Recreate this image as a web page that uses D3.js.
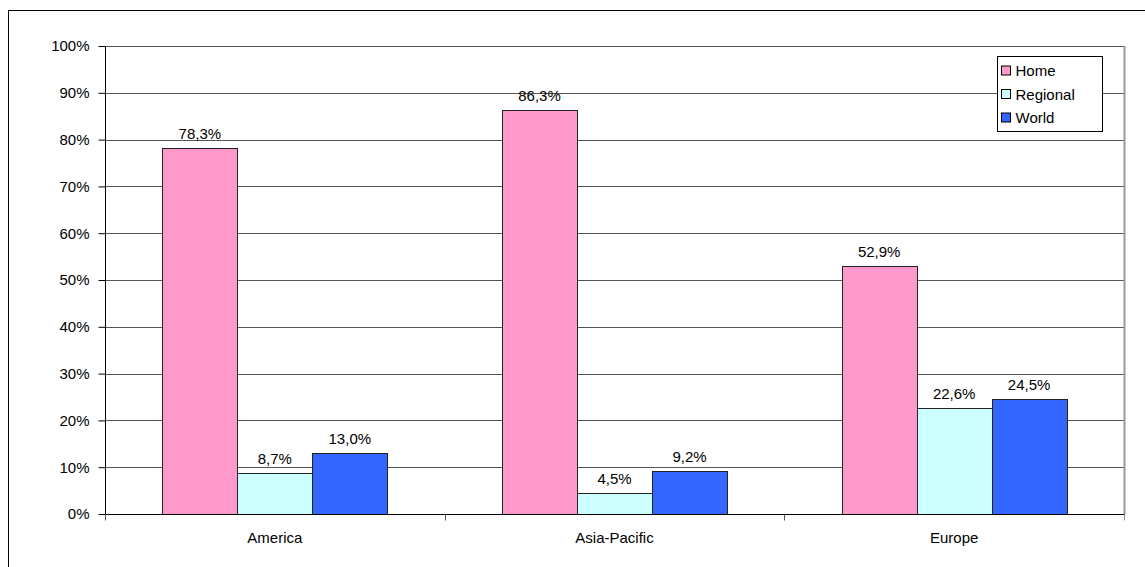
<!DOCTYPE html>
<html><head><meta charset="utf-8">
<script src="https://cdn.jsdelivr.net/npm/d3@7"></script>
<style>body{margin:0;background:#fff}svg{display:block}text{font-family:"Liberation Sans",Arial,sans-serif;fill:#000}</style>
</head><body><svg id="c" width="1145" height="567"></svg>
<script>
const categories = ["America", "Asia-Pacific", "Europe"];
const seriesNames = ["Home", "Regional", "World"];
const home = [78.3, 86.3, 52.9];
const regional = [8.7, 4.5, 22.6];
const world = [13.0, 9.2, 24.5];
const yTicks = [0,10,20,30,40,50,60,70,80,90,100];
const colors = ["#FF99CC", "#CCFFFF", "#3366FF"];
const values = [home, regional, world];

const svg = d3.select("#c");
const L = 105, R = 1124, T = 46, B = 514;
const FS = 15;

// outer frame
svg.append("rect").attr("x", 8.5).attr("y", 10.5).attr("width", 1200).attr("height", 700)
  .attr("fill", "none").attr("stroke", "#000").attr("stroke-width", 1);

const x = d3.scaleBand().domain(categories).range([L, R]).paddingInner(0).paddingOuter(0);
const xs = d3.scaleBand().domain(seriesNames).range([0, x.bandwidth()]).paddingInner(0).paddingOuter(0.765);
const y = d3.scaleLinear().domain([0, 100]).range([B, T]);

// gridlines
svg.append("g").selectAll("line").data(yTicks.filter(d => d > 0)).join("line")
  .attr("x1", L).attr("x2", R).attr("y1", d => Math.round(y(d)) + 0.5).attr("y2", d => Math.round(y(d)) + 0.5)
  .attr("stroke", "#555").attr("stroke-width", 1);

// plot right border
svg.append("line").attr("x1", R + 0.5).attr("x2", R + 0.5).attr("y1", T).attr("y2", B)
  .attr("stroke", "#999").attr("stroke-width", 2);

// bars
const g = svg.append("g");
seriesNames.forEach((s, si) => {
  g.selectAll(".b" + si).data(categories).join("rect")
    .attr("x", c => Math.round(x(c) + xs(s)) + 0.5)
    .attr("y", (c, i) => Math.round(y(values[si][i])) + 0.5)
    .attr("width", Math.round(xs.bandwidth()))
    .attr("height", (c, i) => B - Math.round(y(values[si][i])))
    .attr("fill", colors[si]).attr("stroke", "#222").attr("stroke-width", 1);
  g.selectAll(".l" + si).data(categories).join("text")
    .attr("x", c => x(c) + xs(s) + xs.bandwidth() / 2)
    .attr("y", (c, i) => y(values[si][i]) - 9)
    .attr("text-anchor", "middle").attr("font-size", FS)
    .text((c, i) => values[si][i].toFixed(1).replace(".", ",") + "%");
});

// y axis
const yAxis = d3.axisLeft(y).tickValues(yTicks).tickSize(7).tickPadding(9).tickFormat(d => d + "%");
const ya = svg.append("g").attr("transform", `translate(${L + 0.5},0)`).call(yAxis);
ya.attr("font-size", FS).attr("font-family", '"Liberation Sans",Arial,sans-serif');
ya.selectAll("line,path").attr("stroke", "#000");
ya.select(".domain").attr("d", `M0,${T}V${B}`);

// x axis
const xAxis = d3.axisBottom(x).tickSize(0).tickPadding(18);
const xa = svg.append("g").attr("transform", `translate(0,${B + 0.5})`).call(xAxis);
xa.attr("font-size", FS).attr("font-family", '"Liberation Sans",Arial,sans-serif');
xa.select(".domain").attr("d", `M${L},0H${R + 1}`).attr("stroke", "#000");
// boundary ticks
const bounds = categories.map(c => x(c)).concat([R]);
xa.selectAll(".bt").data(bounds).join("line").attr("class", "bt")
  .attr("x1", d => Math.round(d) + 0.5).attr("x2", d => Math.round(d) + 0.5).attr("y1", 0).attr("y2", 6)
  .attr("stroke", (d, i) => i === bounds.length - 1 ? "#999" : "#555");

// legend
const lg = svg.append("g").attr("transform", "translate(997.5,56.5)");
lg.append("rect").attr("width", 105).attr("height", 75).attr("fill", "#fff").attr("stroke", "#000");
seriesNames.forEach((s, i) => {
  const yy = 14 + i * 23.5;
  lg.append("rect").attr("x", 4).attr("y", yy - 4.5).attr("width", 9).attr("height", 9)
    .attr("fill", colors[i]).attr("stroke", "#000");
  lg.append("text").attr("x", 18).attr("y", yy + 5.5).attr("font-size", FS).text(s);
});
</script></body></html>
